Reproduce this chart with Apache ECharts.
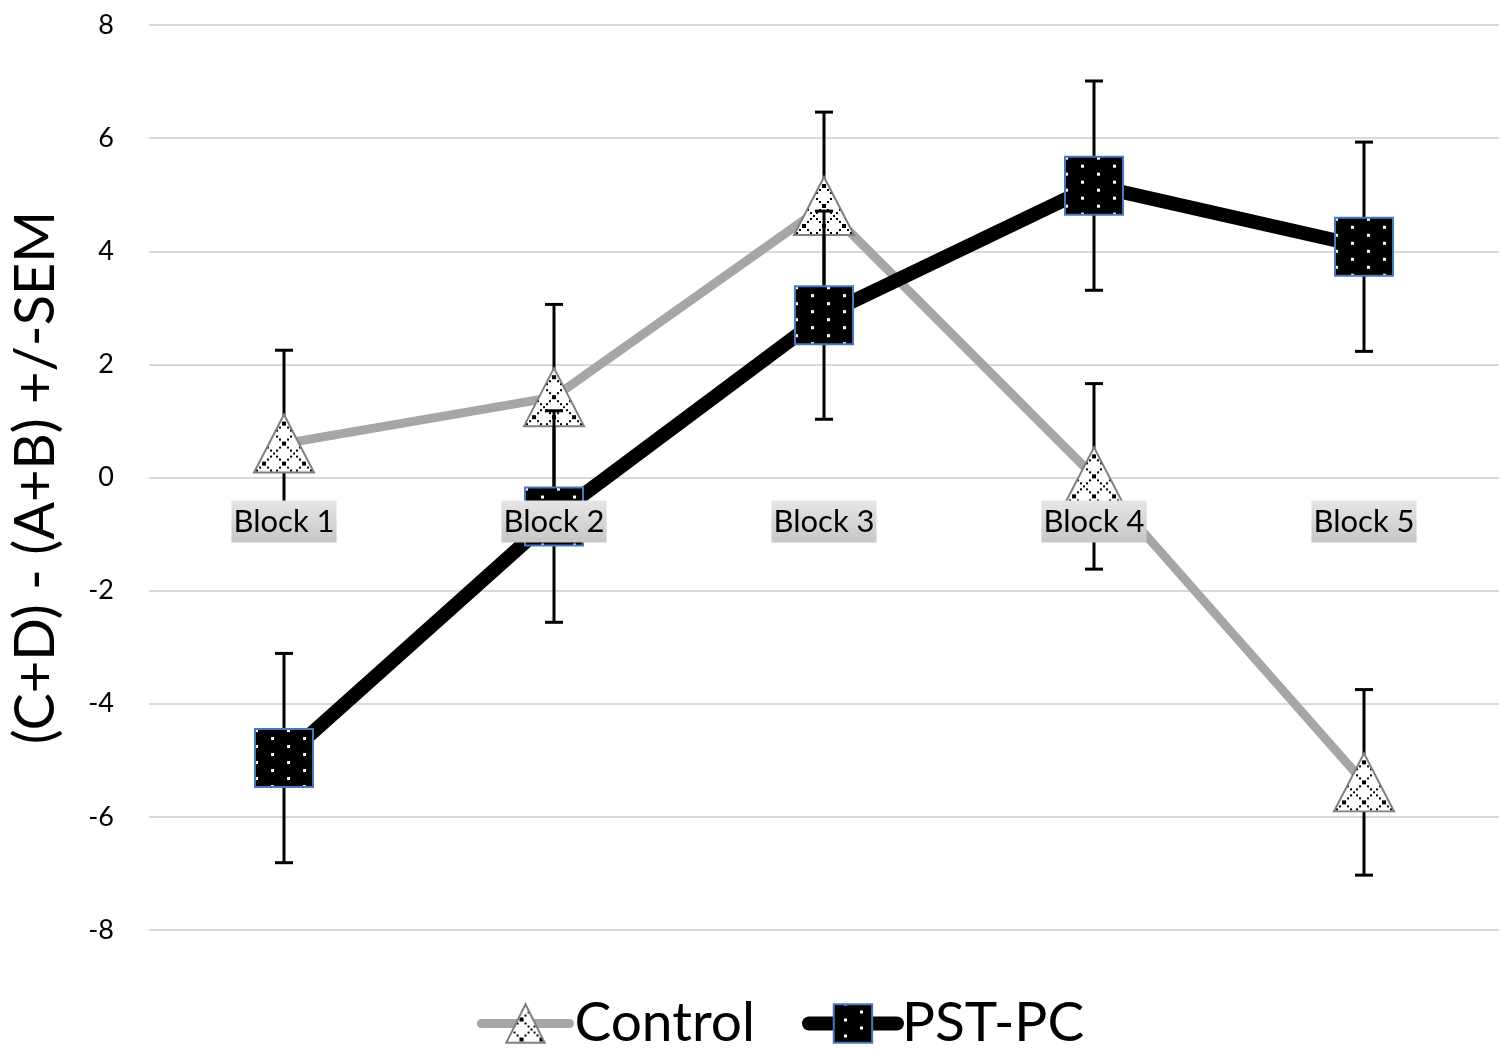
<!DOCTYPE html>
<html lang="en">
<head>
    <meta charset="UTF-8">
    <title>Block chart</title>
    <script src="https://cdn.jsdelivr.net/npm/echarts@6.0.0/dist/echarts.min.js"></script>
    <style>
        html, body { margin: 0; padding: 0; background: #fff; }
        #chart { width: 1500px; height: 1050px; }
    </style>
</head>
<body>
    <div id="chart"></div>
    <script>
        // data
        var categories = ['Block 1', 'Block 2', 'Block 3', 'Block 4', 'Block 5'];
        var controlMean = [0.60, 1.42, 4.80, 0.02, -5.39];
        var controlSem = [1.65, 1.64, 1.66, 1.64, 1.64];
        var pstMean = [-4.96, -0.69, 2.87, 5.16, 4.08];
        var pstSem = [1.85, 1.87, 1.84, 1.85, 1.85];
        var yTicks = [-8, 8, 2]; // min, max, interval

        var FONT = 'Lato, "Open Sans", sans-serif';
        var triSize = [60, 58], sqSize = 58;
        var gridTop = 25, gridBottom = 120, chartH = 1050;

        // category labels sit on the zero line
        var gridH = chartH - gridTop - gridBottom;
        var zeroOffset = -gridH * (0 - yTicks[0]) / (yTicks[1] - yTicks[0]);

        // pattern fills for the markers
        function makeTrianglePattern() {
            var c = document.createElement('canvas');
            c.width = 20; c.height = 20;
            var g = c.getContext('2d');
            g.fillStyle = '#fff';
            g.fillRect(0, 0, 20, 20);
            g.fillStyle = '#000';
            for (var i = 0; i < 20; i += 3) {
                g.fillRect(i, i, 2, 2);      // diagonal \
                g.fillRect(18 - i, i, 2, 2); // diagonal /
            }
            return c;
        }
        function makeSquarePattern() {
            var c = document.createElement('canvas');
            c.width = 32; c.height = 16;
            var g = c.getContext('2d');
            g.fillStyle = '#000';
            g.fillRect(0, 0, 32, 16);
            g.fillStyle = '#fff';
            g.fillRect(3, 3, 3, 3);
            g.fillRect(19, 11, 3, 3);
            return c;
        }
        var triPat = makeTrianglePattern();
        var sqPat = makeSquarePattern();

        function errData(mean, sem) {
            var res = [];
            for (var i = 0; i < mean.length; i++) {
                res.push([i, mean[i] - sem[i], mean[i] + sem[i]]);
            }
            return res;
        }

        function renderErr(params, api) {
            var x = api.value(0);
            var lo = api.coord([x, api.value(1)]);
            var hi = api.coord([x, api.value(2)]);
            var w = 9;
            var st = { stroke: '#000', lineWidth: 3 };
            return {
                type: 'group',
                children: [
                    { type: 'line', shape: { x1: lo[0], y1: lo[1], x2: hi[0], y2: hi[1] }, style: st },
                    { type: 'line', shape: { x1: lo[0] - w, y1: lo[1], x2: lo[0] + w, y2: lo[1] }, style: st },
                    { type: 'line', shape: { x1: hi[0] - w, y1: hi[1], x2: hi[0] + w, y2: hi[1] }, style: st }
                ]
            };
        }

        var myChart = echarts.init(document.getElementById('chart'));

        var option = {
            animation: false,
            textStyle: { fontFamily: FONT },
            grid: { left: 145, right: 1, top: gridTop, bottom: gridBottom, containLabel: false },
            legend: {
                bottom: -6,
                left: 472,
                itemWidth: 88,
                itemHeight: 48,
                itemGap: 47,
                lineStyle: { width: 'inherit' },
                data: [
                    {
                        name: 'Control',
                        itemStyle: { color: { image: triPat, repeat: 'repeat' }, borderColor: '#808080', borderWidth: 2 },
                        lineStyle: { color: '#a6a6a6', width: 9, cap: 'round' }
                    },
                    {
                        name: 'PST-PC',
                        itemStyle: { color: { image: sqPat, repeat: 'repeat' }, borderColor: '#4a78c0', borderWidth: 2 },
                        lineStyle: { color: '#000', width: 14, cap: 'round' }
                    }
                ],
                textStyle: { fontSize: 55, color: '#000', fontFamily: FONT }
            },
            xAxis: {
                type: 'category',
                data: categories,
                z: 10,
                position: 'bottom',
                offset: zeroOffset,
                axisLine: { show: false, onZero: false },
                axisTick: { show: false },
                axisLabel: {
                    interval: 0,
                    margin: 23,
                    fontSize: 31,
                    color: '#000',
                    fontFamily: FONT,
                    padding: [6, 2, 5, 2],
                    backgroundColor: new echarts.graphic.LinearGradient(0, 0, 0, 1, [
                        { offset: 0, color: '#e6e6e6' },
                        { offset: 1, color: '#c6c6c6' }
                    ])
                }
            },
            yAxis: {
                type: 'value',
                min: yTicks[0],
                max: yTicks[1],
                interval: yTicks[2],
                name: '(C+D) - (A+B) +/-SEM',
                nameLocation: 'middle',
                nameGap: 85,
                nameTextStyle: { fontSize: 56, color: '#000', fontFamily: FONT },
                axisLine: { show: false },
                axisTick: { show: false },
                axisLabel: { fontSize: 27, color: '#000', margin: 35, fontFamily: FONT },
                splitLine: { lineStyle: { color: '#d9d9d9', width: 2 } }
            },
            series: [
                {
                    name: 'Control err',
                    type: 'custom',
                    z: 2,
                    renderItem: renderErr,
                    data: errData(controlMean, controlSem)
                },
                {
                    name: 'Control',
                    type: 'line',
                    z: 3,
                    data: controlMean,
                    symbol: 'triangle',
                    symbolSize: triSize,
                    lineStyle: { color: '#a6a6a6', width: 9 },
                    itemStyle: {
                        // symbols are drawn at unit size and scaled, so undo that for the pattern
                        color: { image: triPat, repeat: 'repeat', scaleX: 2 / triSize[0], scaleY: 2 / triSize[1] },
                        borderColor: '#808080',
                        borderWidth: 2
                    }
                },
                {
                    name: 'PST-PC err',
                    type: 'custom',
                    z: 4,
                    renderItem: renderErr,
                    data: errData(pstMean, pstSem)
                },
                {
                    name: 'PST-PC',
                    type: 'line',
                    z: 5,
                    data: pstMean,
                    symbol: 'rect',
                    symbolSize: sqSize,
                    lineStyle: { color: '#000', width: 14 },
                    itemStyle: {
                        color: { image: sqPat, repeat: 'repeat', scaleX: 2 / sqSize, scaleY: 2 / sqSize },
                        borderColor: '#4a78c0',
                        borderWidth: 2
                    }
                }
            ]
        };
        myChart.setOption(option);
    </script>
</body>
</html>
